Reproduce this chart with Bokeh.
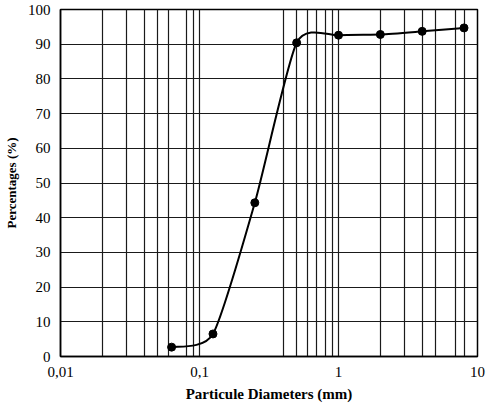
import numpy as np
from bokeh.plotting import figure
from bokeh.models import FixedTicker, ColumnDataSource
from bokeh.embed import file_html
from bokeh.resources import INLINE

# data
diameters = [0.063, 0.125, 0.25, 0.5, 1, 2, 4, 8]
percentages = [2.7, 6.5, 44.3, 90.4, 92.6, 92.8, 93.7, 94.7]
x_tick_values = [0.01, 0.1, 1, 10]
x_tick_labels = ["0,01", "0,1", "1", "10"]
x_grid_values = [0.02, 0.03, 0.04, 0.05, 0.06, 0.08, 0.09, 0.1,
                 0.4, 0.5, 0.6, 0.7, 0.8, 0.9, 1,
                 2, 3, 4, 5, 7, 8, 10]
y_tick_values = list(range(0, 101, 10))
x_title = "Particule Diameters (mm)"
y_title = "Percentages (%)"

p = figure(width=500, height=410, x_axis_type="log", x_range=(0.01, 10), y_range=(0, 100),
           output_backend="svg", toolbar_location=None,
           min_border_left=57, min_border_right=23, min_border_top=9, min_border_bottom=54)
p.background_fill_color = "white"
p.border_fill_color = "white"
p.outline_line_color = "black"
p.outline_line_width = 1.5

# axes
p.xaxis.ticker = FixedTicker(ticks=x_tick_values)
p.xaxis.major_label_overrides = {v: s for v, s in zip(x_tick_values, x_tick_labels)}
p.yaxis.ticker = FixedTicker(ticks=y_tick_values)
for ax in (p.xaxis, p.yaxis):
    ax.major_tick_out = 0
    ax.major_tick_in = 0
    ax.minor_tick_out = 0
    ax.minor_tick_in = 0
    ax.axis_line_color = "black"
    ax.axis_line_width = 1.5
    ax.major_label_text_font = "Liberation Serif"
    ax.major_label_text_font_size = "15px"
    ax.major_label_text_color = "black"
    ax.axis_label_text_font = "Liberation Serif"
    ax.axis_label_text_font_style = "bold"
    ax.axis_label_text_color = "black"
p.xaxis.axis_label = x_title
p.yaxis.axis_label = y_title
p.xaxis.axis_label_text_font_size = "15px"
p.yaxis.axis_label_text_font_size = "13px"
p.xaxis.major_label_standoff = 10
p.xaxis.axis_label_standoff = 6
p.yaxis.major_label_standoff = 10
p.yaxis.axis_label_standoff = 6

# grid
p.xgrid.ticker = FixedTicker(ticks=x_grid_values)
p.ygrid.ticker = FixedTicker(ticks=y_tick_values)
for g in (p.xgrid, p.ygrid):
    g.grid_line_color = "#1a1a1a"
    g.grid_line_width = 1.2

# smoothed curve (cardinal spline in log-x screen space)
lx = np.log10(np.array(diameters, dtype=float))
ly = np.array(percentages, dtype=float)
n = len(lx)
k = 0.11
x0, y0, x1, y1, cx0, cy0, cx1, cy1 = ([] for _ in range(8))
for i in range(n - 1):
    i0 = max(i - 1, 0)
    i3 = min(i + 2, n - 1)
    c0x = lx[i] + (lx[i + 1] - lx[i0]) * k
    c0y = ly[i] + (ly[i + 1] - ly[i0]) * k
    c1x = lx[i + 1] - (lx[i3] - lx[i]) * k
    c1y = ly[i + 1] - (ly[i3] - ly[i]) * k
    x0.append(10 ** lx[i]); y0.append(ly[i])
    x1.append(10 ** lx[i + 1]); y1.append(ly[i + 1])
    cx0.append(10 ** c0x); cy0.append(c0y)
    cx1.append(10 ** c1x); cy1.append(c1y)
src = ColumnDataSource(dict(x0=x0, y0=y0, x1=x1, y1=y1, cx0=cx0, cy0=cy0, cx1=cx1, cy1=cy1))
p.bezier(x0="x0", y0="y0", x1="x1", y1="y1", cx0="cx0", cy0="cy0", cx1="cx1", cy1="cy1",
         source=src, line_color="black", line_width=2)
p.scatter(diameters, percentages, size=8, marker="circle", fill_color="black", line_color="black")

open("out.html", "w").write(file_html(p, INLINE))
